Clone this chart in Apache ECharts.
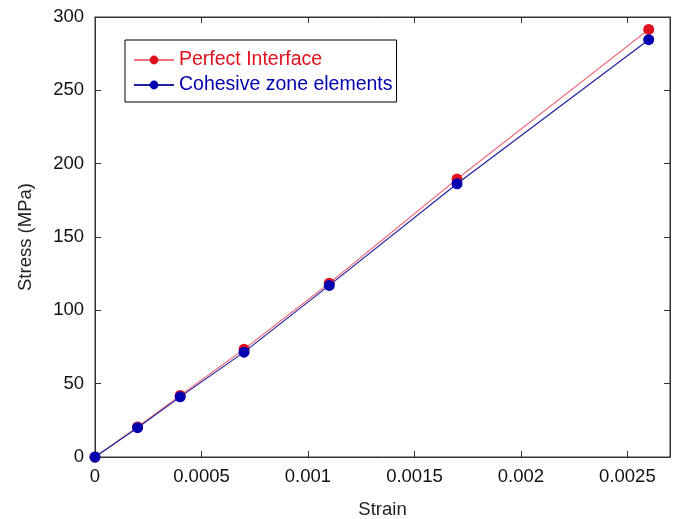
<!DOCTYPE html>
<html>
<head>
<meta charset="utf-8">
<script src="https://cdn.jsdelivr.net/npm/echarts@6/dist/echarts.min.js"></script>
<style>
  html, body { margin: 0; padding: 0; background: #fff; }
  #chart { width: 678px; height: 519px; }
</style>
</head>
<body>
<div id="chart"></div>
<script>
// strain values (x)
var strain = [0, 0.0002, 0.0004, 0.0007, 0.0011, 0.0017, 0.0026];
// stress (MPa)
var perfectInterface = [0, 20.5, 42, 73.5, 118.5, 189.5, 291.5];
var cohesiveZone = [0, 20, 41, 71.5, 117, 186.3, 284.5];
var seriesNames = ['Perfect Interface', 'Cohesive zone elements'];

function pairs(xs, ys) {
  return xs.map(function (x, i) { return [x, ys[i]]; });
}

var chart = echarts.init(document.getElementById('chart'));

var axisColor = '#333';
var font = 'Liberation Sans, Arial, sans-serif';

// matlab-like box: axis line + inward ticks on every side
function boxAxis(extra) {
  return Object.assign({
    type: 'value',
    axisLine: { show: true, onZero: false, lineStyle: { color: axisColor } },
    axisTick: { show: true, inside: true, length: 6, lineStyle: { color: axisColor } },
    splitLine: { show: false }
  }, extra);
}

var option = {
  backgroundColor: '#fff',
  animation: false,
  grid: {
    left: 95, right: 8, top: 17, bottom: 62,
    outerBoundsMode: 'none',
    containLabel: false,
    show: true, borderColor: axisColor, borderWidth: 1
  },
  legend: {
    orient: 'vertical',
    left: 125,
    top: 40,
    padding: [10, 4, 7, 8],
    itemGap: 5,
    itemWidth: 40,
    itemHeight: 11,
    borderColor: '#000',
    borderWidth: 1,
    textStyle: { fontFamily: font, fontSize: 19.5 },
    data: [
      { name: seriesNames[0], textStyle: { color: '#e0101e' } },
      { name: seriesNames[1], textStyle: { color: '#0000b0' } }
    ]
  },
  xAxis: [boxAxis({
    position: 'bottom',
    min: 0,
    max: 0.0027,
    interval: 0.0005,
    name: 'Strain',
    nameLocation: 'middle',
    nameGap: 43,
    nameTextStyle: { fontFamily: font, fontSize: 18.5, color: '#222' },
    axisLabel: {
      fontFamily: font, fontSize: 18.5, color: '#111', margin: 10,
      showMaxLabel: false,
      formatter: function (v) { return v === 0 ? '0' : String(+v.toFixed(4)); }
    }
  }), boxAxis({
    position: 'top',
    min: 0,
    max: 0.0027,
    interval: 0.0005,
    axisLabel: { show: false }
  })],
  yAxis: [boxAxis({
    position: 'left',
    min: 0,
    max: 300,
    interval: 50,
    name: 'Stress (MPa)',
    nameLocation: 'middle',
    nameGap: 60,
    nameTextStyle: { fontFamily: font, fontSize: 18.5, color: '#222' },
    axisLabel: { fontFamily: font, fontSize: 18.5, color: '#111', margin: 11 }
  }), boxAxis({
    position: 'right',
    min: 0,
    max: 300,
    interval: 50,
    axisLabel: { show: false }
  })],
  series: [{
    name: seriesNames[0],
    type: 'line',
    data: pairs(strain, perfectInterface),
    symbol: 'circle',
    symbolSize: 11,
    itemStyle: { color: '#e0101e' },
    lineStyle: { color: '#f07080', width: 1.2 },
    z: 2
  }, {
    name: seriesNames[1],
    type: 'line',
    data: pairs(strain, cohesiveZone),
    symbol: 'circle',
    symbolSize: 11,
    itemStyle: { color: '#0000b0' },
    lineStyle: { color: '#2020a0', width: 1.2 },
    z: 3
  }]
};

chart.setOption(option);
</script>
</body>
</html>
